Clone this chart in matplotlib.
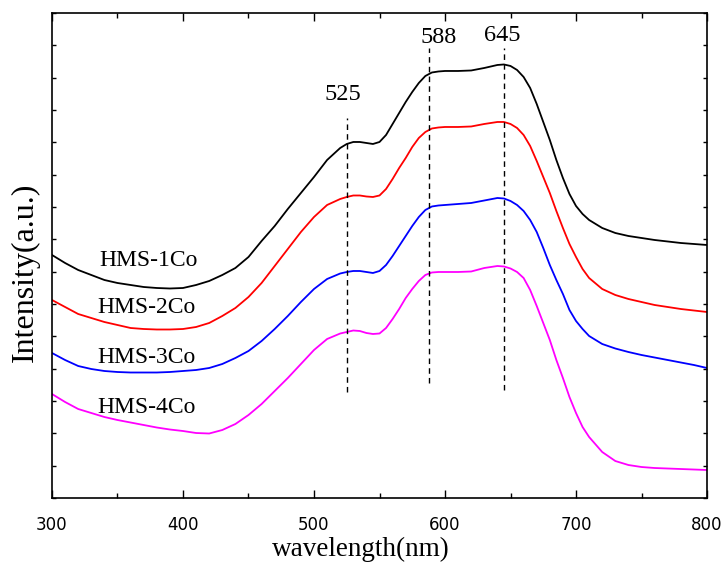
import numpy as np
import matplotlib
matplotlib.use("Agg")
import matplotlib.pyplot as plt
from matplotlib.ticker import MultipleLocator, NullFormatter, FixedLocator

# %%
# wavelength grid (nm) and intensities (a.u.)
wavelength = [300, 310, 320, 330, 340, 350, 360, 370, 380, 390, 400, 410, 420, 430, 440,
              450, 460, 470, 480, 490, 500, 510, 520, 525, 530, 535, 540, 545, 550, 555,
              560, 565, 570, 575, 580, 585, 590, 595, 600, 610, 620, 630, 640, 645, 650,
              655, 660, 665, 670, 675, 680, 685, 690, 695, 700, 705, 710, 720, 730, 740,
              750, 760, 770, 780, 790, 800]

hms_1co = [243, 235, 228, 223, 218, 215, 213, 211, 210, 209.5, 210, 213, 217, 223, 230,
           241, 257, 272, 289, 305, 321, 338, 350, 354, 356, 356, 355, 354, 356, 363,
           374, 385, 396, 406, 415, 422, 425.5, 426.5, 427, 427, 427.5, 430, 433, 433.5, 432,
           428, 421, 410, 394, 376, 358, 338, 320, 304, 292, 284, 278, 270, 265, 262,
           260, 258, 256.5, 255, 254, 253]
hms_2co = [198, 191, 184, 180, 176, 173, 170, 169, 168.5, 168.5, 169, 171, 175, 182, 190,
           201, 215, 232, 249, 266, 281, 293, 299, 301, 302.5, 302.5, 301.5, 301, 302.5, 309,
           319, 330, 340, 351, 360, 366, 369.5, 370.5, 371, 371, 371.5, 374, 376, 376, 374,
           370, 363, 352, 337, 321, 305, 287, 270, 254, 241, 229, 220, 209, 203, 199,
           196, 193, 191, 189, 187.5, 186]
hms_3co = [145, 138, 132, 129, 127, 126, 125.5, 125.5, 125.5, 126, 127, 128, 130, 134, 140,
           147, 157, 169, 182, 196, 209, 219, 224.5, 226, 227, 227, 226, 225, 227, 233,
           242, 252, 262, 272, 281, 288, 291.5, 292.5, 293, 294, 295, 297.5, 300, 299.5, 297,
           293, 287, 278, 266, 250, 233, 218, 204, 188, 177, 169, 162, 154, 149.5, 146,
           143, 140.5, 138, 135.5, 133, 130]
hms_4co = [104, 96, 89, 85, 81, 78, 75.5, 73, 70.5, 68.5, 67, 65, 64.5, 68, 74,
           83, 94, 107, 120, 134, 148, 159, 164.5, 166, 167.5, 167, 165, 164, 164.5, 170,
           179, 189, 200, 209, 217, 223, 225.5, 226, 226, 226, 226.5, 230, 232, 231.5, 229.5,
           226, 220, 208, 192, 175, 158, 138, 120, 101, 85, 71, 61, 46, 37, 33,
           31, 30, 29.5, 29, 28.5, 28]

sample_names = ["HMS-1Co", "HMS-2Co", "HMS-3Co", "HMS-4Co"]
name_x = [374, 372, 372, 372]
name_y = [237, 190, 141, 91]

peak_pos = [525, 588, 645]
peak_top = [380, 450, 450]
peak_bottom = [106, 115, 108]
peak_label_x = [522, 595, 644]
peak_label_y = [403, 460, 462]

# %%
serif = "Liberation Serif"

fig = plt.figure(figsize=(7.23, 5.64), dpi=100)
ax = fig.add_axes([0.0719, 0.117, 0.906, 0.860])

colors = ["black", "red", "blue", "magenta"]
for series, c in zip([hms_1co, hms_2co, hms_3co, hms_4co], colors):
    ax.plot(wavelength, series, color=c, lw=1.3)

for p, t, b in zip(peak_pos, peak_top, peak_bottom):
    ax.plot([p, p], [b, t], color="black", lw=1.0, ls=(0, (4, 3)))

for lbl, lx, ly in zip(peak_pos, peak_label_x, peak_label_y):
    ax.text(lx, ly, str(lbl), ha="center", va="center", fontsize=17.5, family=serif)

for name, nx, ny in zip(sample_names, name_x, name_y):
    ax.text(nx, ny, name, ha="center", va="center", fontsize=17, family=serif)

ax.set_xlim(300, 800)
ax.set_ylim(0, 485)
ax.xaxis.set_major_locator(MultipleLocator(100))
ax.xaxis.set_minor_locator(MultipleLocator(50))
ax.yaxis.set_major_locator(FixedLocator(np.linspace(0, 485, 16)))
ax.yaxis.set_major_formatter(NullFormatter())

ax.tick_params(axis="both", which="both", direction="in", top=True, right=True, width=1.0)
ax.tick_params(axis="x", which="major", length=6, pad=13, labelsize=12)
ax.tick_params(axis="x", which="minor", length=3.5)
ax.tick_params(axis="y", which="major", length=3)
for lab in ax.get_xticklabels():
    lab.set_family("DejaVu Sans")

for s in ax.spines.values():
    s.set_linewidth(1.2)

# axis titles placed where the reference has them
fig.text(360.5 / 723, 1 - 556 / 564, "wavelength(nm)", ha="center", va="baseline",
         fontsize=19.5, family=serif)
fig.text(25 / 723, 1 - 272 / 564, "Intensity(a.u.)", ha="center", va="center",
         rotation=90, fontsize=23, family=serif)

fig.savefig("out.png", dpi=100)
